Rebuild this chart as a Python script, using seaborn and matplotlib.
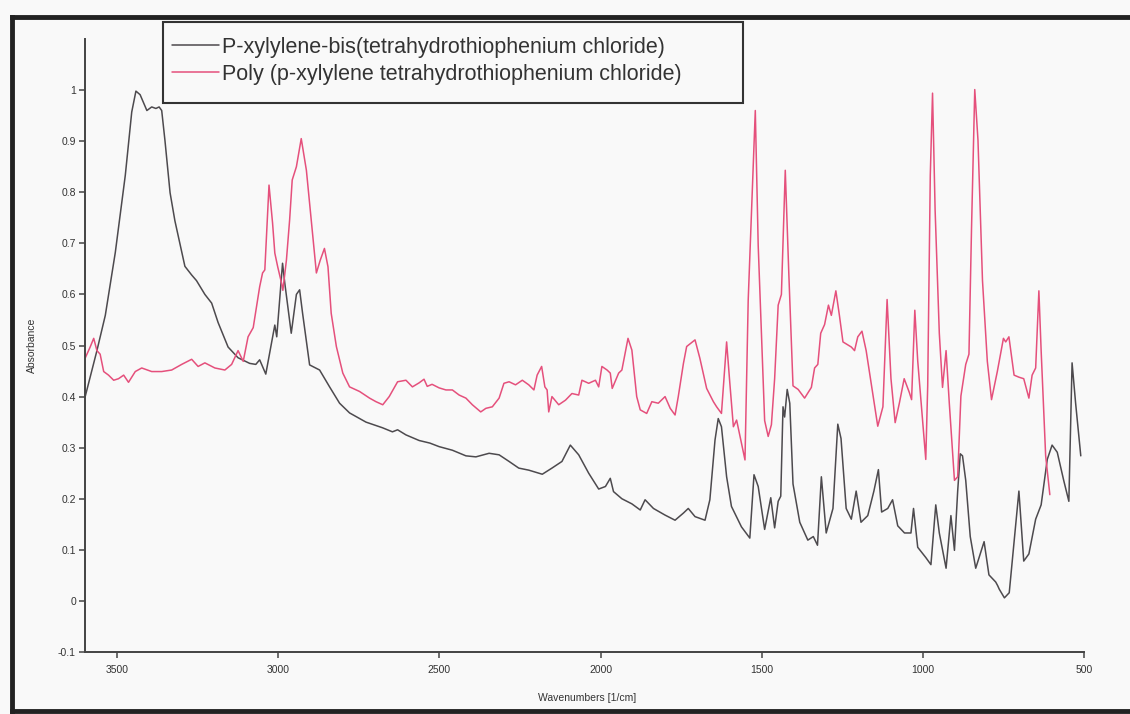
import numpy as np
import pandas as pd
import matplotlib
matplotlib.use("Agg")
import matplotlib.pyplot as plt
import seaborn as sns
from matplotlib.patches import Rectangle
from matplotlib.lines import Line2D

# ---------------- data ----------------
series_names = ["P-xylylene-bis(tetrahydrothiophenium chloride)",
                "Poly (p-xylylene tetrahydrothiophenium chloride)"]

bis_wavenumber = [3599, 3563, 3537, 3506, 3475, 3455, 3442, 3429, 3408, 3393, 3380, 3370, 3362, 3352,
                  3336, 3321, 3290, 3269, 3254, 3228, 3207, 3187, 3156, 3125, 3089, 3070, 3058, 3039,
                  3011, 3005, 2987, 2980, 2960, 2944, 2934, 2925, 2903, 2872, 2841, 2810, 2779, 2728,
                  2677, 2646, 2630, 2604, 2563, 2530, 2501, 2460, 2418, 2387, 2346, 2315, 2284, 2254,
                  2223, 2181, 2151, 2120, 2094, 2068, 2037, 2006, 1985, 1970, 1960, 1934, 1903, 1877,
                  1862, 1836, 1800, 1769, 1743, 1728, 1707, 1676, 1661, 1645, 1635, 1625, 1609, 1594,
                  1563, 1537, 1524, 1511, 1491, 1472, 1460, 1449, 1441, 1434, 1429, 1421, 1413, 1403,
                  1382, 1357, 1340, 1327, 1315, 1300, 1279, 1264, 1254, 1238, 1222, 1207, 1192, 1171,
                  1152, 1138, 1128, 1109, 1094, 1078, 1057, 1037, 1029, 1016, 991, 975, 960, 949,
                  928, 913, 902, 892, 884, 877, 867, 853, 836, 810, 795, 774, 768, 763, 747, 732,
                  702, 687, 671, 650, 633, 614, 599, 583, 563, 547, 537, 526, 510]
bis_absorbance = [0.401, 0.49, 0.559, 0.682, 0.833, 0.957, 0.998, 0.991, 0.96, 0.967, 0.964, 0.967, 0.96, 0.902,
                  0.799, 0.744, 0.655, 0.638, 0.627, 0.60, 0.583, 0.545, 0.497, 0.476, 0.465, 0.463, 0.472, 0.444,
                  0.540, 0.517, 0.661, 0.622, 0.524, 0.60, 0.609, 0.564, 0.462, 0.452, 0.419, 0.387, 0.368, 0.35,
                  0.339, 0.331, 0.335, 0.325, 0.314, 0.309, 0.302, 0.295, 0.284, 0.282, 0.289, 0.286, 0.273, 0.26,
                  0.256, 0.248, 0.26, 0.273, 0.305, 0.286, 0.25, 0.219, 0.224, 0.24, 0.214, 0.20, 0.19, 0.178,
                  0.198, 0.181, 0.168, 0.158, 0.172, 0.181, 0.165, 0.158, 0.198, 0.315, 0.357, 0.341, 0.243, 0.185,
                  0.145, 0.123, 0.247, 0.224, 0.14, 0.202, 0.143, 0.195, 0.205, 0.38, 0.36, 0.414, 0.387, 0.229,
                  0.154, 0.119, 0.126, 0.109, 0.243, 0.133, 0.181, 0.346, 0.318, 0.181, 0.16, 0.215, 0.154, 0.167,
                  0.215, 0.257, 0.174, 0.181, 0.198, 0.147, 0.133, 0.133, 0.181, 0.105, 0.085, 0.071, 0.188, 0.133,
                  0.064, 0.167, 0.099, 0.215, 0.288, 0.284, 0.236, 0.126, 0.064, 0.116, 0.051, 0.037, 0.03, 0.023, 0.006, 0.016,
                  0.215, 0.078, 0.092, 0.16, 0.188, 0.277, 0.305, 0.291, 0.236, 0.195, 0.466, 0.387, 0.284]

poly_wavenumber = [3599, 3584, 3573, 3563, 3553, 3542, 3527, 3511, 3496, 3480, 3465, 3444, 3424, 3393,
                   3362, 3331, 3300, 3269, 3249, 3228, 3197, 3166, 3145, 3125, 3109, 3094, 3078, 3058,
                   3049, 3042, 3029, 3018, 3011, 3002, 2990, 2986, 2975, 2965, 2957, 2944, 2929, 2913,
                   2898, 2882, 2870, 2857, 2846, 2836, 2820, 2800, 2779, 2748, 2717, 2697, 2676, 2656,
                   2630, 2604, 2584, 2563, 2548, 2538, 2523, 2501, 2480, 2460, 2439, 2418, 2398, 2372,
                   2356, 2336, 2315, 2300, 2284, 2264, 2243, 2223, 2207, 2197, 2183, 2173, 2166, 2161,
                   2151, 2130, 2109, 2089, 2068, 2058, 2037, 2016, 2006, 1996, 1980, 1970, 1964, 1944,
                   1934, 1915, 1903, 1888, 1877, 1857, 1841, 1821, 1800, 1784, 1769, 1759, 1743, 1733,
                   1707, 1692, 1671, 1650, 1640, 1625, 1609, 1599, 1588, 1578, 1552, 1542, 1520, 1511,
                   1491, 1480, 1470, 1460, 1449, 1439, 1427, 1416, 1403, 1387, 1367, 1346, 1336, 1326,
                   1317, 1305, 1293, 1284, 1270, 1259, 1248, 1222, 1212, 1202, 1189, 1176, 1156, 1140,
                   1124, 1111, 1099, 1086, 1073, 1058, 1042, 1035, 1025, 1016, 991, 985, 977, 970,
                   962, 949, 939, 928, 918, 902, 892, 882, 867, 857, 849, 839, 829, 815, 800, 787,
                   769, 750, 743, 733, 717, 702, 687, 671, 661, 650, 640, 633, 619, 606]
poly_absorbance = [0.476, 0.497, 0.514, 0.49, 0.483, 0.449, 0.442, 0.432, 0.435, 0.442, 0.428, 0.449, 0.456, 0.449,
                   0.449, 0.452, 0.463, 0.473, 0.459, 0.466, 0.456, 0.452, 0.463, 0.49, 0.469, 0.517, 0.535, 0.615,
                   0.642, 0.648, 0.814, 0.74, 0.681, 0.654, 0.622, 0.608, 0.667, 0.746, 0.824, 0.85, 0.905, 0.843,
                   0.746, 0.642, 0.667, 0.69, 0.654, 0.563, 0.498, 0.446, 0.419, 0.41, 0.397, 0.39, 0.384, 0.40,
                   0.429, 0.432, 0.419, 0.427, 0.434, 0.420, 0.424, 0.417, 0.413, 0.413, 0.403, 0.397, 0.384, 0.37,
                   0.377, 0.38, 0.397, 0.426, 0.429, 0.423, 0.432, 0.423, 0.413, 0.442, 0.459, 0.419, 0.413, 0.37,
                   0.40, 0.384, 0.393, 0.406, 0.403, 0.432, 0.426, 0.432, 0.419, 0.459, 0.452, 0.446, 0.416, 0.446,
                   0.452, 0.514, 0.491, 0.40, 0.374, 0.367, 0.39, 0.387, 0.40, 0.377, 0.364, 0.40, 0.465, 0.498,
                   0.511, 0.475, 0.416, 0.39, 0.38, 0.367, 0.507, 0.426, 0.341, 0.354, 0.276, 0.589, 0.96, 0.696,
                   0.353, 0.322, 0.345, 0.435, 0.579, 0.60, 0.843, 0.641, 0.421, 0.414, 0.397, 0.418, 0.456, 0.463,
                   0.524, 0.541, 0.579, 0.559, 0.607, 0.559, 0.507, 0.497, 0.49, 0.517, 0.528, 0.49, 0.408, 0.342,
                   0.38, 0.59, 0.435, 0.349, 0.387, 0.435, 0.408, 0.394, 0.569, 0.47, 0.277, 0.421, 0.833, 0.994,
                   0.765, 0.524, 0.418, 0.49, 0.387, 0.236, 0.243, 0.401, 0.463, 0.483, 0.73, 1.001, 0.902, 0.627, 0.469, 0.394,
                   0.449, 0.514, 0.507, 0.517, 0.442, 0.438, 0.435, 0.397, 0.442, 0.456, 0.607, 0.49, 0.284, 0.208]

x_ticks = [3500, 3000, 2500, 2000, 1500, 1000, 500]
y_ticks = [-0.1, 0, 0.1, 0.2, 0.3, 0.4, 0.5, 0.6, 0.7, 0.8, 0.9, 1.0]
y_tick_labels = ["-0.1", "0", "0.1", "0.2", "0.3", "0.4", "0.5", "0.6", "0.7", "0.8", "0.9", "1"]

# ---------------- styling ----------------
sns.set_style("ticks")
plt.rcParams['font.family'] = ['Liberation Sans', 'DejaVu Sans']

W, H = 1130, 714
fig = plt.figure(figsize=(W / 100, H / 100), dpi=100, facecolor='#f9f9f9')
ax = fig.add_axes([85 / W, 1 - 652 / H, (1084 - 85) / W, (652 - 39) / H])
ax.set_facecolor('none')

bis = pd.DataFrame({'Wavenumber': bis_wavenumber, 'Absorbance': bis_absorbance})
poly = pd.DataFrame({'Wavenumber': poly_wavenumber, 'Absorbance': poly_absorbance})

black_col = '#4d4a4e'
pink_col = '#e5507c'
sns.lineplot(data=bis, x='Wavenumber', y='Absorbance', ax=ax, color=black_col, lw=1.1,
             sort=False, estimator=None, label=series_names[0])
sns.lineplot(data=poly, x='Wavenumber', y='Absorbance', ax=ax, color=pink_col, lw=1.1,
             sort=False, estimator=None, label=series_names[1])

ax.set_xlim(3600, 500)
ax.set_ylim(-0.1, 1.1)
ax.set_xticks(x_ticks)
ax.set_xticklabels([str(t) for t in x_ticks])
ax.set_yticks(y_ticks)
ax.set_yticklabels(y_tick_labels)

axis_col = '#444444'
for s in ['top', 'right']:
    ax.spines[s].set_visible(False)
for s in ['left', 'bottom']:
    ax.spines[s].set_color(axis_col)
    ax.spines[s].set_linewidth(1.4)
ax.tick_params(axis='both', direction='out', length=4.5, width=1.1, color=axis_col,
               labelsize=7.5, labelcolor='#333333', pad=2)
ax.tick_params(axis='x', pad=5)

ax.set_xlabel("Wavenumbers [1/cm]", fontsize=7.5, color='#333333')
ax.set_ylabel("Absorbance", fontsize=7.5, color='#333333')
ax.xaxis.set_label_coords((587 - 85) / 999, (652 - 693) / 613)
ax.yaxis.set_label_coords((37 - 85) / 999, 0.5)

# legend
handles, labels = ax.get_legend_handles_labels()
ax.get_legend().remove()
fig.legend(handles, labels, loc='upper left', bbox_to_anchor=(172 / W, 1 - 37 / H),
           frameon=False, fontsize=15.5, handlelength=2.2, handletextpad=0.12,
           labelspacing=0.28, borderpad=0, borderaxespad=0, labelcolor='#333333')
fig.patches.append(Rectangle((163 / W, 1 - 103 / H), (743 - 163) / W, (103 - 22) / H,
                             transform=fig.transFigure, fill=False, ec='#333333', lw=1.5))
# outer scanned frame (left, top, bottom edges)
frame_kw = dict(transform=fig.transFigure, color='#222222', lw=3.5, solid_capstyle='projecting')
fig.lines.append(Line2D([12 / W, 12 / W], [1 - 711 / H, 1 - 17 / H], **frame_kw))
fig.lines.append(Line2D([12 / W, 1.0], [1 - 17 / H, 1 - 17 / H], **frame_kw))
fig.lines.append(Line2D([12 / W, 1.0], [1 - 711 / H, 1 - 711 / H], **frame_kw))

fig.savefig("out.png", dpi=100, facecolor=fig.get_facecolor())
